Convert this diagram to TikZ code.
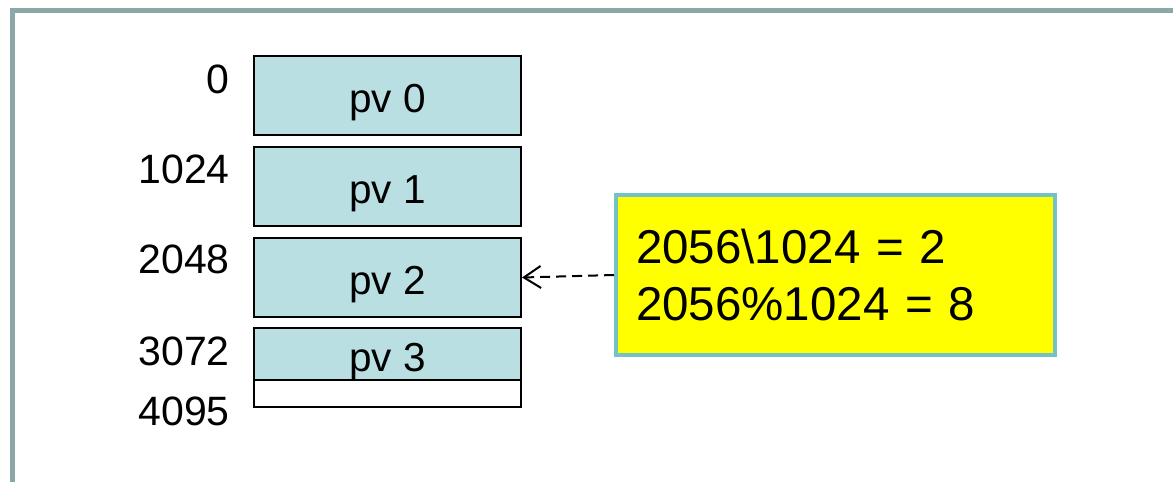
\documentclass[tikz,border=0pt]{standalone}
\usepackage{fontspec}
\setmainfont{Liberation Sans}
\usetikzlibrary{arrows.meta}
\definecolor{frame}{HTML}{8AA8A8}
\definecolor{pvfill}{HTML}{BADFE2}
\definecolor{ybord}{HTML}{74C2C8}
\definecolor{yfill}{HTML}{FFFF00}
\begin{document}
\begin{tikzpicture}[x=1pt,y=-1pt,
  pvbox/.style={draw=black,line width=2pt,fill=pvfill,minimum width=267pt,inner sep=0pt},
  pvtext/.style={anchor=base,inner sep=0pt,font=\fontsize{40.5}{48}\selectfont},
  addr/.style={anchor=base east,inner sep=0pt,font=\fontsize{41}{48}\selectfont},
  note/.style={draw=ybord,line width=4pt,fill=yfill,text width=399pt,inner xsep=20pt,
    minimum height=160pt,align=left,font=\fontsize{47.5}{57}\selectfont}]
\useasboundingbox (0,0) rectangle (1173,482);
\draw[frame,line width=5pt] (12,490) -- (12,10) -- (1180,10);
\node[pvbox,minimum height=79pt] (pv0) at (387.5,95.5) {};
\node[pvbox,minimum height=79pt] (pv1) at (387.5,186.5) {};
\node[pvbox,minimum height=79pt] (pv2) at (387.5,277.5) {};
\node[pvbox,minimum height=52pt] (pv3) at (387.5,354) {};
\node[pvbox,fill=white,minimum height=27pt] (rest) at (387.5,393.5) {};
\node[pvtext] (t0) at ([yshift=-16.5pt]pv0.center) {pv 0};
\node[pvtext] (t1) at ([yshift=-16.5pt]pv1.center) {pv 1};
\node[pvtext] (t2) at ([yshift=-16.5pt]pv2.center) {pv 2};
\node[pvtext] (t3) at ([yshift=-17pt]pv3.center) {pv 3};
\node[addr] (a0) at (230,93) {0};
\node[addr] (a1) at (230,183) {1024};
\node[addr] (a2) at (230,273) {2048};
\node[addr] (a3) at (230,365) {3072};
\node[addr] (a4) at (230,425) {4095};
\node[note] (calc) at (835.5,275) {2056\textbackslash 1024 = 2\\2056\%1024 = 8};
\draw[line width=2pt,dash pattern=on 10pt off 6pt,-{Straight Barb[length=17pt,width=22pt,line width=2pt]}] (calc.west) -- (pv2.east);
\end{tikzpicture}
\end{document}
